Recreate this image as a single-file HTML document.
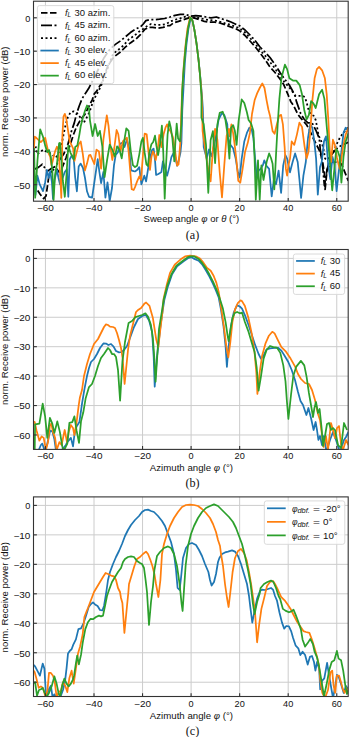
<!DOCTYPE html>
<html><head><meta charset="utf-8"><style>html,body{margin:0;padding:0;background:#fff;width:350px;height:737px;overflow:hidden}svg{display:block}</style></head>
<body><svg width="350" height="737" viewBox="0 0 350 737" font-family='"Liberation Sans", sans-serif' fill="#111"><defs><clipPath id="ca"><rect x="33.5" y="1.2" width="314.70" height="200.00"/></clipPath><clipPath id="cb"><rect x="33.5" y="249.5" width="314.70" height="199.90"/></clipPath><clipPath id="cc"><rect x="33.5" y="496.9" width="314.70" height="199.60"/></clipPath></defs>
<line x1="45.45" y1="1.2" x2="45.45" y2="201.2" stroke="#cccccc" stroke-width="1.0"/>
<line x1="94.00" y1="1.2" x2="94.00" y2="201.2" stroke="#cccccc" stroke-width="1.0"/>
<line x1="142.55" y1="1.2" x2="142.55" y2="201.2" stroke="#cccccc" stroke-width="1.0"/>
<line x1="191.10" y1="1.2" x2="191.10" y2="201.2" stroke="#cccccc" stroke-width="1.0"/>
<line x1="239.65" y1="1.2" x2="239.65" y2="201.2" stroke="#cccccc" stroke-width="1.0"/>
<line x1="288.20" y1="1.2" x2="288.20" y2="201.2" stroke="#cccccc" stroke-width="1.0"/>
<line x1="336.75" y1="1.2" x2="336.75" y2="201.2" stroke="#cccccc" stroke-width="1.0"/>
<line x1="33.5" y1="17.80" x2="348.2" y2="17.80" stroke="#cccccc" stroke-width="1.0"/>
<line x1="33.5" y1="51.18" x2="348.2" y2="51.18" stroke="#cccccc" stroke-width="1.0"/>
<line x1="33.5" y1="84.56" x2="348.2" y2="84.56" stroke="#cccccc" stroke-width="1.0"/>
<line x1="33.5" y1="117.94" x2="348.2" y2="117.94" stroke="#cccccc" stroke-width="1.0"/>
<line x1="33.5" y1="151.32" x2="348.2" y2="151.32" stroke="#cccccc" stroke-width="1.0"/>
<line x1="33.5" y1="184.70" x2="348.2" y2="184.70" stroke="#cccccc" stroke-width="1.0"/>
<text x="45.45" y="210.60" font-size="8.7" text-anchor="middle" textLength="16.88" lengthAdjust="spacingAndGlyphs">−60</text>
<text x="94.00" y="210.60" font-size="8.7" text-anchor="middle" textLength="16.88" lengthAdjust="spacingAndGlyphs">−40</text>
<text x="142.55" y="210.60" font-size="8.7" text-anchor="middle" textLength="16.88" lengthAdjust="spacingAndGlyphs">−20</text>
<text x="191.10" y="210.60" font-size="8.7" text-anchor="middle" textLength="5.09" lengthAdjust="spacingAndGlyphs">0</text>
<text x="239.65" y="210.60" font-size="8.7" text-anchor="middle" textLength="10.18" lengthAdjust="spacingAndGlyphs">20</text>
<text x="288.20" y="210.60" font-size="8.7" text-anchor="middle" textLength="10.18" lengthAdjust="spacingAndGlyphs">40</text>
<text x="336.75" y="210.60" font-size="8.7" text-anchor="middle" textLength="10.18" lengthAdjust="spacingAndGlyphs">60</text>
<text x="30.30" y="21.60" font-size="8.7" text-anchor="end" textLength="5.09" lengthAdjust="spacingAndGlyphs">0</text>
<text x="30.30" y="54.98" font-size="8.7" text-anchor="end" textLength="16.88" lengthAdjust="spacingAndGlyphs">−10</text>
<text x="30.30" y="88.36" font-size="8.7" text-anchor="end" textLength="16.88" lengthAdjust="spacingAndGlyphs">−20</text>
<text x="30.30" y="121.74" font-size="8.7" text-anchor="end" textLength="16.88" lengthAdjust="spacingAndGlyphs">−30</text>
<text x="30.30" y="155.12" font-size="8.7" text-anchor="end" textLength="16.88" lengthAdjust="spacingAndGlyphs">−40</text>
<text x="30.30" y="188.50" font-size="8.7" text-anchor="end" textLength="16.88" lengthAdjust="spacingAndGlyphs">−50</text>
<text x="191.45" y="222.30" font-size="8.6" text-anchor="middle" textLength="95.68" lengthAdjust="spacingAndGlyphs">Sweep angle <tspan font-style="italic">φ</tspan> or <tspan font-style="italic">θ</tspan> (°)</text>
<text x="192.55" y="239.2" font-size="12.2" text-anchor="middle" font-family='"Liberation Serif", serif'>(a)</text>
<text transform="translate(8.3 101.7) rotate(-90)" font-size="8.6" text-anchor="middle" textLength="110.43" lengthAdjust="spacingAndGlyphs">norm. Receive power (dB)</text>
<g clip-path="url(#ca)">
<polyline points="33.0,182.9 36.0,188.0 40.1,194.3 43.7,198.6 46.0,196.0 47.3,187.1 48.7,177.1 50.3,173.0 53.0,170.0 56.0,168.0 59.0,172.0 62.0,168.0 66.0,158.0 70.0,145.0 73.6,134.3 76.4,127.1 80.9,119.0 84.9,114.4 88.9,106.4 90.6,103.0 92.3,99.6 94.3,93.9 96.9,90.9 99.4,86.6 101.1,84.0 104.0,76.0 107.9,65.7 113.6,57.1 120.1,52.3 125.3,47.1 130.4,42.9 135.6,39.4 140.7,34.3 145.0,29.1 149.3,27.4 152.7,27.4 157.9,28.3 163.0,27.4 168.1,25.7 170.0,25.6 173.4,23.0 178.6,21.3 183.7,19.6 188.9,17.9 194.0,17.9 199.1,19.6 204.3,21.3 209.4,22.1 214.6,22.1 219.7,23.0 224.9,24.7 229.1,26.4 234.0,28.0 236.3,29.0 240.0,31.0 245.0,35.5 250.0,41.0 255.0,46.5 260.0,53.0 265.0,59.5 270.0,67.0 275.0,72.5 280.0,79.0 283.6,84.3 287.9,94.3 290.7,101.4 293.6,105.7 297.9,114.3 300.0,117.1 303.6,121.4 306.3,124.3 309.7,130.3 313.1,138.0 316.6,144.9 320.0,151.7 322.6,162.0 324.3,172.3 325.1,189.4 327.1,169.7 329.4,165.4 332.0,162.0 335.0,162.0 338.0,162.0 341.4,163.7 344.9,172.3 348.3,180.9" fill="none" stroke="#000" stroke-width="1.75" stroke-linejoin="round" stroke-dasharray="6.5,2.5"/>
<polyline points="33.0,170.0 38.7,167.1 42.3,164.3 47.3,171.4 52.0,168.0 55.9,166.4 58.0,162.0 61.6,157.0 63.6,154.3 67.9,144.3 71.4,131.4 74.3,122.9 76.4,114.3 79.3,105.7 82.1,98.6 85.7,92.9 88.6,88.6 91.4,83.0 97.0,72.0 103.6,58.6 109.3,50.0 115.0,44.6 120.1,41.1 125.3,36.9 130.4,32.6 135.6,29.1 140.7,26.6 143.3,24.0 145.9,20.6 149.3,19.7 154.4,19.7 159.6,19.2 164.7,18.5 170.0,17.0 175.1,15.3 180.3,14.4 185.4,14.4 190.6,16.1 195.7,15.6 200.9,16.1 206.0,17.0 211.1,17.9 216.3,17.0 221.4,18.7 226.6,20.4 231.0,22.0 236.3,24.5 240.0,26.0 245.0,30.0 250.0,35.0 255.0,40.5 260.0,47.0 265.0,52.0 270.0,57.5 275.0,64.5 280.0,72.5 285.0,79.5 289.3,85.0 292.1,90.0 295.0,95.7 296.4,101.4 300.7,113.6 304.0,119.0 307.9,122.9 312.1,122.9 316.4,131.4 319.3,138.6 320.3,150.0 322.0,160.0 323.0,169.7 324.4,185.7 327.0,170.0 330.6,156.0 335.1,150.3 338.6,146.9 343.1,144.6 348.5,142.3" fill="none" stroke="#000" stroke-width="1.75" stroke-linejoin="round" stroke-dasharray="11,2.5,2,2.5"/>
<polyline points="33.0,152.0 35.9,147.1 37.3,154.3 40.0,152.0 43.3,149.7 47.0,152.0 50.1,153.1 55.9,157.7 59.0,152.0 61.4,145.7 63.6,134.3 65.7,124.3 67.9,117.1 70.7,112.1 73.6,111.4 77.0,113.0 80.0,117.0 83.7,123.0 86.5,118.0 89.4,112.1 91.1,107.6 92.3,103.6 94.0,99.6 96.0,95.5 98.5,91.0 101.0,86.0 104.0,78.0 107.0,70.0 110.0,62.0 113.0,54.0 118.4,49.7 123.6,45.4 128.7,39.4 133.9,36.0 139.0,31.7 144.1,28.3 147.6,25.7 151.0,24.0 156.1,24.9 161.3,24.9 166.4,24.0 170.0,21.5 175.1,19.8 180.3,18.3 185.4,16.7 190.6,17.3 195.7,17.3 200.9,18.4 206.0,19.6 211.1,20.1 216.3,20.8 221.4,22.1 226.6,23.9 231.0,25.0 236.3,27.0 240.0,28.5 245.0,32.5 250.0,38.0 255.0,43.5 260.0,50.0 265.0,55.5 270.0,62.0 275.0,68.5 280.0,76.0 285.0,83.0 289.0,87.0 295.7,96.0 302.1,95.7 305.0,97.1 307.1,104.3 308.6,110.0 310.7,114.3 313.6,115.7 315.7,120.0 317.1,127.1 318.6,135.7 320.9,140.0 323.4,148.3 325.1,158.6 327.0,160.0 329.4,156.9 332.9,153.4 336.3,144.9 339.7,138.0 343.1,132.9 348.3,127.7" fill="none" stroke="#000" stroke-width="1.75" stroke-linejoin="round" stroke-dasharray="2,2.5"/>
<polyline points="33.0,180.0 34.1,186.7 35.5,195.0 37.4,175.6 39.7,184.4 43.0,191.1 45.2,182.2 46.9,170.0 48.6,177.8 50.2,171.1 51.9,182.0 53.0,199.0 54.5,180.0 57.0,170.0 58.5,178.0 60.0,184.4 62.8,177.5 64.8,172.0 66.9,169.2 68.3,196.8 69.7,159.5 71.8,155.3 73.8,159.5 75.2,177.5 76.9,191.3 78.7,166.4 80.7,163.6 83.0,168.0 85.0,178.0 87.0,191.3 89.0,196.8 92.1,197.7 95.1,177.1 97.7,159.1 99.4,172.0 101.1,183.1 103.4,172.0 105.4,197.7 107.5,182.3 109.7,201.0 112.0,188.0 114.0,165.1 115.7,154.9 117.9,152.3 120.0,143.7 122.2,142.9 124.5,147.0 126.9,139.4 129.1,148.0 131.1,170.3 133.7,171.1 135.0,171.4 137.1,170.0 139.3,167.1 141.4,184.3 144.3,175.7 146.1,181.4 147.9,170.0 150.0,158.0 152.1,150.0 153.6,148.6 155.0,160.0 156.1,175.0 157.9,174.3 160.0,172.9 161.4,172.1 162.9,161.4 165.0,168.0 167.1,175.7 169.3,167.1 171.4,157.1 173.6,152.9 175.5,158.0 177.1,165.7 178.8,160.0 180.4,152.9 181.4,142.9 182.3,110.0 183.5,88.0 184.9,62.0 186.4,45.0 188.4,29.0 190.6,18.2 192.6,21.0 194.6,31.0 196.7,44.5 198.7,61.0 200.3,77.0 201.8,93.5 202.8,108.0 203.3,125.0 203.7,147.1 206.7,158.6 209.0,149.4 211.7,156.3 215.1,140.3 218.6,119.7 222.0,112.9 224.3,115.1 227.3,124.3 228.0,138.0 230.6,144.9 233.1,148.3 235.7,158.6 237.9,172.3 239.7,177.4 241.7,158.6 244.3,141.4 246.9,132.9 249.4,127.7 251.7,129.4 253.4,138.0 255.1,158.6 256.8,178.0 258.5,170.6 260.6,168.9 262.8,165.4 264.3,160.3 266.6,166.0 269.1,168.9 271.7,196.3 273.8,180.0 276.0,184.3 278.6,170.6 281.1,192.9 283.2,165.4 285.4,155.1 287.1,158.6 290.0,172.3 292.6,162.0 295.1,153.4 297.7,162.0 299.4,179.1 301.1,198.0 303.4,175.7 305.8,162.0 308.0,138.0 310.2,124.3 312.3,127.7 314.3,141.4 316.1,158.6 317.8,194.6 320.0,167.1 321.7,162.0 324.0,141.4 326.0,136.3 328.1,163.7 330.3,179.1 332.5,156.9 334.5,165.0 336.6,191.1 338.9,170.6 341.4,151.7 343.5,132.9 345.7,127.7 348.5,129.4" fill="none" stroke="#1f77b4" stroke-width="1.75" stroke-linejoin="round"/>
<polyline points="33.0,160.0 34.7,136.7 36.3,137.8 38.5,140.0 40.8,142.2 43.0,140.0 45.2,137.8 46.9,145.6 48.6,153.3 50.2,156.7 51.4,165.0 52.4,162.2 53.8,156.0 55.2,151.1 56.9,146.7 58.5,150.0 60.2,175.6 61.3,197.8 62.4,135.0 63.5,116.6 64.8,113.8 66.2,118.0 67.6,127.7 69.7,141.5 71.8,145.6 73.1,148.4 74.5,160.9 76.6,152.6 78.7,144.3 80.7,141.5 82.8,153.9 84.9,170.5 87.0,163.6 89.0,155.3 90.4,154.9 92.6,160.0 94.3,164.0 96.5,149.7 98.9,151.4 101.1,168.6 103.4,139.4 106.8,115.4 108.5,125.7 110.6,148.0 112.3,160.0 114.3,148.0 116.6,130.0 118.3,134.3 120.5,151.4 122.9,141.1 125.1,139.4 126.9,137.7 128.6,151.4 130.3,172.0 131.7,189.1 133.7,190.0 135.0,187.1 137.1,181.4 139.3,176.4 141.0,180.0 142.9,155.7 144.7,133.6 146.7,134.3 148.6,152.9 150.0,170.0 151.4,157.1 152.9,151.4 154.3,154.3 155.7,160.0 157.6,150.0 159.3,135.0 161.4,147.1 163.6,134.3 165.7,127.1 167.1,124.3 168.6,128.6 170.7,131.4 172.9,137.1 175.0,150.0 177.1,165.7 178.6,164.3 180.4,141.4 181.2,115.0 182.2,90.0 183.6,68.0 185.2,48.0 187.4,29.0 190.1,17.4 192.4,20.4 194.4,29.9 196.5,43.4 198.5,59.7 200.1,76.0 201.5,92.3 202.2,112.0 202.6,131.1 204.9,147.1 207.5,165.0 210.6,181.4 212.9,149.4 215.1,128.9 217.4,140.0 219.7,172.3 222.0,197.4 224.3,165.0 226.6,135.7 228.9,128.9 229.7,136.3 231.4,124.3 233.1,132.9 234.9,146.6 236.6,162.0 238.3,180.9 240.3,182.6 242.6,168.9 245.1,151.7 247.7,143.1 249.9,132.9 252.0,114.0 254.6,100.3 257.1,93.4 259.7,88.0 262.3,83.4 264.5,88.0 266.6,100.3 268.5,110.0 270.0,115.7 272.6,131.1 274.6,133.7 276.9,124.3 279.1,115.7 281.1,114.9 282.9,124.3 284.6,146.6 285.9,168.9 287.1,175.7 288.5,165.0 290.0,158.6 291.7,141.4 294.3,144.9 296.9,134.6 299.4,122.6 302.0,126.9 304.6,146.6 306.6,158.6 308.5,151.7 310.2,132.9 312.3,101.1 314.6,78.3 316.9,69.1 319.1,66.9 322.1,70.3 324.9,78.3 326.7,94.3 328.3,119.4 329.8,150.0 331.1,162.0 332.9,139.7 334.9,144.9 337.0,158.0 339.7,168.9 341.4,158.6 343.1,146.6 345.7,134.6 348.5,127.7" fill="none" stroke="#ff7f0e" stroke-width="1.75" stroke-linejoin="round"/>
<polyline points="33.0,151.0 34.1,148.9 35.2,197.8 37.5,160.0 40.2,129.4 43.0,136.7 45.2,145.6 47.4,152.2 49.0,150.0 50.8,156.7 52.3,170.0 53.6,200.0 55.0,175.0 56.9,164.4 59.1,143.3 60.0,142.9 61.4,160.0 62.8,180.2 64.8,196.8 66.5,175.0 68.3,145.6 70.4,152.6 72.4,156.7 73.8,159.5 75.2,147.0 77.3,145.6 79.4,134.6 80.7,126.3 82.8,118.0 84.9,111.1 87.0,105.5 89.0,108.3 90.0,120.6 92.6,136.0 95.1,124.0 97.7,136.0 99.9,130.9 102.3,146.3 104.6,177.1 107.1,160.0 109.7,144.6 112.3,149.7 114.9,156.6 117.1,146.3 119.5,149.7 121.7,158.3 123.9,142.9 126.3,128.3 128.6,130.9 130.8,151.4 132.9,165.1 135.0,167.1 137.1,165.7 139.3,154.3 141.4,141.4 142.9,137.9 144.7,152.9 146.4,164.3 147.9,166.0 149.3,152.9 151.4,144.3 153.2,142.0 155.0,135.7 156.4,145.7 158.1,155.0 160.0,144.3 161.9,125.7 163.3,152.9 164.7,198.6 166.1,164.3 167.6,134.3 169.3,121.4 170.7,127.1 172.4,138.6 174.3,161.4 175.5,140.0 176.7,123.6 178.1,138.6 180.0,141.4 181.4,124.3 182.2,92.0 183.3,73.3 184.7,57.0 186.3,40.7 188.3,27.1 190.4,17.6 192.4,20.4 194.4,29.9 196.5,43.4 198.5,59.7 200.1,76.0 201.5,97.0 201.4,117.4 203.7,124.3 206.0,144.9 208.3,192.9 210.6,140.3 212.9,131.1 215.1,163.1 217.4,124.3 219.7,112.9 222.7,111.7 225.4,119.7 227.7,135.7 229.4,158.6 231.1,127.7 233.1,125.1 234.9,131.1 236.6,144.9 238.6,120.9 241.7,99.4 244.3,102.9 246.9,112.3 248.6,120.0 251.1,123.4 253.4,131.1 254.6,158.6 255.8,199.7 258.0,160.3 259.7,199.7 261.4,165.4 263.5,180.0 266.6,162.0 269.1,153.4 271.0,158.0 272.6,163.7 274.3,189.4 276.0,155.1 277.7,124.3 279.4,98.6 281.4,78.3 284.9,64.6 287.1,69.1 289.4,78.3 292.9,80.6 296.3,80.6 299.7,85.1 302.0,94.3 304.3,110.3 306.6,119.4 308.9,114.9 311.1,101.1 313.4,103.4 315.7,108.0 319.1,94.3 322.1,89.7 324.4,98.9 326.7,126.3 329.4,156.0 332.2,190.3 334.2,170.6 336.3,149.1 338.0,151.7 339.7,156.9 341.4,182.6 343.5,156.9 345.7,141.4 348.5,132.9" fill="none" stroke="#2ca02c" stroke-width="1.75" stroke-linejoin="round"/>
</g>
<line x1="45.45" y1="201.2" x2="45.45" y2="197.89999999999998" stroke="#333" stroke-width="1.1"/>
<line x1="94.00" y1="201.2" x2="94.00" y2="197.89999999999998" stroke="#333" stroke-width="1.1"/>
<line x1="142.55" y1="201.2" x2="142.55" y2="197.89999999999998" stroke="#333" stroke-width="1.1"/>
<line x1="191.10" y1="201.2" x2="191.10" y2="197.89999999999998" stroke="#333" stroke-width="1.1"/>
<line x1="239.65" y1="201.2" x2="239.65" y2="197.89999999999998" stroke="#333" stroke-width="1.1"/>
<line x1="288.20" y1="201.2" x2="288.20" y2="197.89999999999998" stroke="#333" stroke-width="1.1"/>
<line x1="336.75" y1="201.2" x2="336.75" y2="197.89999999999998" stroke="#333" stroke-width="1.1"/>
<line x1="33.5" y1="17.80" x2="36.9" y2="17.80" stroke="#333" stroke-width="1.1"/>
<line x1="33.5" y1="51.18" x2="36.9" y2="51.18" stroke="#333" stroke-width="1.1"/>
<line x1="33.5" y1="84.56" x2="36.9" y2="84.56" stroke="#333" stroke-width="1.1"/>
<line x1="33.5" y1="117.94" x2="36.9" y2="117.94" stroke="#333" stroke-width="1.1"/>
<line x1="33.5" y1="151.32" x2="36.9" y2="151.32" stroke="#333" stroke-width="1.1"/>
<line x1="33.5" y1="184.70" x2="36.9" y2="184.70" stroke="#333" stroke-width="1.1"/>
<rect x="33.5" y="1.2" width="314.70" height="200.00" fill="none" stroke="#333" stroke-width="1.1"/>
<rect x="37.4" y="5.6" width="76.4" height="78.0" rx="2.2" fill="#fff" fill-opacity="0.8" stroke="#d6d6d6" stroke-width="0.9"/>
<line x1="41.0" y1="12.90" x2="56.7" y2="12.90" stroke="#000" stroke-width="1.75" stroke-dasharray="6.5,2.5"/>
<text x="65.00" y="16.00" font-size="9.30" font-style="italic">f</text>
<text x="67.60" y="17.40" font-size="6.47" font-style="italic">L</text>
<text x="74.60" y="15.70" font-size="8.3" textLength="35.67" lengthAdjust="spacingAndGlyphs">30 azim.</text>
<line x1="41.0" y1="25.45" x2="56.7" y2="25.45" stroke="#000" stroke-width="1.75" stroke-dasharray="11,2.5,2,2.5"/>
<text x="65.00" y="28.55" font-size="9.30" font-style="italic">f</text>
<text x="67.60" y="29.95" font-size="6.47" font-style="italic">L</text>
<text x="74.60" y="28.25" font-size="8.3" textLength="35.67" lengthAdjust="spacingAndGlyphs">45 azim.</text>
<line x1="41.0" y1="38.00" x2="56.7" y2="38.00" stroke="#000" stroke-width="1.75" stroke-dasharray="2,2.5"/>
<text x="65.00" y="41.10" font-size="9.30" font-style="italic">f</text>
<text x="67.60" y="42.50" font-size="6.47" font-style="italic">L</text>
<text x="74.60" y="40.80" font-size="8.3" textLength="35.67" lengthAdjust="spacingAndGlyphs">60 azim.</text>
<line x1="40.4" y1="50.55" x2="58.8" y2="50.55" stroke="#1f77b4" stroke-width="1.75"/>
<text x="65.00" y="53.65" font-size="9.30" font-style="italic">f</text>
<text x="67.60" y="55.05" font-size="6.47" font-style="italic">L</text>
<text x="74.60" y="53.35" font-size="8.3" textLength="32.62" lengthAdjust="spacingAndGlyphs">30 elev.</text>
<line x1="40.4" y1="63.10" x2="58.8" y2="63.10" stroke="#ff7f0e" stroke-width="1.75"/>
<text x="65.00" y="66.20" font-size="9.30" font-style="italic">f</text>
<text x="67.60" y="67.60" font-size="6.47" font-style="italic">L</text>
<text x="74.60" y="65.90" font-size="8.3" textLength="32.62" lengthAdjust="spacingAndGlyphs">45 elev.</text>
<line x1="40.4" y1="75.65" x2="58.8" y2="75.65" stroke="#2ca02c" stroke-width="1.75"/>
<text x="65.00" y="78.75" font-size="9.30" font-style="italic">f</text>
<text x="67.60" y="80.15" font-size="6.47" font-style="italic">L</text>
<text x="74.60" y="78.45" font-size="8.3" textLength="32.62" lengthAdjust="spacingAndGlyphs">60 elev.</text>
<line x1="45.45" y1="249.5" x2="45.45" y2="449.4" stroke="#cccccc" stroke-width="1.0"/>
<line x1="94.00" y1="249.5" x2="94.00" y2="449.4" stroke="#cccccc" stroke-width="1.0"/>
<line x1="142.55" y1="249.5" x2="142.55" y2="449.4" stroke="#cccccc" stroke-width="1.0"/>
<line x1="191.10" y1="249.5" x2="191.10" y2="449.4" stroke="#cccccc" stroke-width="1.0"/>
<line x1="239.65" y1="249.5" x2="239.65" y2="449.4" stroke="#cccccc" stroke-width="1.0"/>
<line x1="288.20" y1="249.5" x2="288.20" y2="449.4" stroke="#cccccc" stroke-width="1.0"/>
<line x1="336.75" y1="249.5" x2="336.75" y2="449.4" stroke="#cccccc" stroke-width="1.0"/>
<line x1="33.5" y1="258.40" x2="348.2" y2="258.40" stroke="#cccccc" stroke-width="1.0"/>
<line x1="33.5" y1="287.83" x2="348.2" y2="287.83" stroke="#cccccc" stroke-width="1.0"/>
<line x1="33.5" y1="317.26" x2="348.2" y2="317.26" stroke="#cccccc" stroke-width="1.0"/>
<line x1="33.5" y1="346.69" x2="348.2" y2="346.69" stroke="#cccccc" stroke-width="1.0"/>
<line x1="33.5" y1="376.12" x2="348.2" y2="376.12" stroke="#cccccc" stroke-width="1.0"/>
<line x1="33.5" y1="405.55" x2="348.2" y2="405.55" stroke="#cccccc" stroke-width="1.0"/>
<line x1="33.5" y1="434.98" x2="348.2" y2="434.98" stroke="#cccccc" stroke-width="1.0"/>
<text x="45.45" y="459.40" font-size="8.7" text-anchor="middle" textLength="16.88" lengthAdjust="spacingAndGlyphs">−60</text>
<text x="94.00" y="459.40" font-size="8.7" text-anchor="middle" textLength="16.88" lengthAdjust="spacingAndGlyphs">−40</text>
<text x="142.55" y="459.40" font-size="8.7" text-anchor="middle" textLength="16.88" lengthAdjust="spacingAndGlyphs">−20</text>
<text x="191.10" y="459.40" font-size="8.7" text-anchor="middle" textLength="5.09" lengthAdjust="spacingAndGlyphs">0</text>
<text x="239.65" y="459.40" font-size="8.7" text-anchor="middle" textLength="10.18" lengthAdjust="spacingAndGlyphs">20</text>
<text x="288.20" y="459.40" font-size="8.7" text-anchor="middle" textLength="10.18" lengthAdjust="spacingAndGlyphs">40</text>
<text x="336.75" y="459.40" font-size="8.7" text-anchor="middle" textLength="10.18" lengthAdjust="spacingAndGlyphs">60</text>
<text x="30.30" y="262.20" font-size="8.7" text-anchor="end" textLength="5.09" lengthAdjust="spacingAndGlyphs">0</text>
<text x="30.30" y="291.63" font-size="8.7" text-anchor="end" textLength="16.88" lengthAdjust="spacingAndGlyphs">−10</text>
<text x="30.30" y="321.06" font-size="8.7" text-anchor="end" textLength="16.88" lengthAdjust="spacingAndGlyphs">−20</text>
<text x="30.30" y="350.49" font-size="8.7" text-anchor="end" textLength="16.88" lengthAdjust="spacingAndGlyphs">−30</text>
<text x="30.30" y="379.92" font-size="8.7" text-anchor="end" textLength="16.88" lengthAdjust="spacingAndGlyphs">−40</text>
<text x="30.30" y="409.35" font-size="8.7" text-anchor="end" textLength="16.88" lengthAdjust="spacingAndGlyphs">−50</text>
<text x="30.30" y="438.78" font-size="8.7" text-anchor="end" textLength="16.88" lengthAdjust="spacingAndGlyphs">−60</text>
<text x="191.45" y="471.30" font-size="8.6" text-anchor="middle" textLength="83.21" lengthAdjust="spacingAndGlyphs">Azimuth angle <tspan font-style="italic">φ</tspan> (°)</text>
<text x="192.55" y="486.8" font-size="12.2" text-anchor="middle" font-family='"Liberation Serif", serif'>(b)</text>
<text transform="translate(8.3 349.9) rotate(-90)" font-size="8.6" text-anchor="middle" textLength="110.43" lengthAdjust="spacingAndGlyphs">norm. Receive power (dB)</text>
<g clip-path="url(#cb)">
<polyline points="38.7,450.0 40.9,445.0 42.3,443.6 44.4,450.0 47.0,445.0 50.1,430.7 52.3,431.4 54.4,439.3 55.9,450.0 60.0,452.0 65.9,445.0 67.3,442.1 70.9,437.9 73.0,446.4 74.4,435.0 76.6,426.4 79.4,422.1 82.1,403.1 84.4,389.4 87.0,376.0 89.0,368.0 91.0,362.0 94.0,359.0 97.0,354.0 100.0,348.0 103.4,343.4 106.0,343.6 108.4,345.0 111.0,344.0 113.6,346.6 116.0,351.0 119.0,352.4 121.6,352.0 124.0,350.0 127.0,346.0 130.0,338.0 134.0,327.0 138.0,319.0 142.3,316.0 145.7,314.9 149.1,320.6 152.1,332.0 153.7,357.1 154.7,386.6 156.7,359.4 158.3,345.7 160.6,325.1 162.4,312.6 164.3,300.0 167.9,286.4 172.1,274.3 177.1,266.4 183.6,261.4 188.6,257.9 191.4,257.1 194.3,258.9 198.6,260.7 202.1,264.3 205.7,270.0 209.3,276.4 212.9,283.6 215.7,290.0 218.6,297.1 220.8,308.6 223.5,326.2 225.6,346.6 226.9,366.9 228.3,349.3 231.0,326.2 233.7,312.6 237.1,305.2 239.8,306.5 242.0,308.6 244.9,315.1 248.3,324.3 251.7,334.6 255.1,344.9 258.6,354.0 260.9,358.6 263.1,356.3 266.6,349.4 270.0,348.3 274.6,347.8 278.0,347.8 281.4,350.6 284.9,356.3 288.3,362.0 291.7,370.0 295.0,380.0 298.0,392.0 300.5,401.0 303.0,405.0 306.4,415.0 308.4,408.0 311.0,418.0 313.6,430.0 315.6,422.0 317.0,430.0 318.4,440.0 320.0,436.0 322.0,445.0 324.0,436.0 326.4,452.0 330.0,440.0 333.0,432.0 336.0,440.0 340.0,452.0 344.0,440.0 346.0,437.0 348.5,432.0" fill="none" stroke="#1f77b4" stroke-width="1.75" stroke-linejoin="round"/>
<polyline points="33.0,421.4 34.7,422.1 36.6,430.7 39.4,440.7 41.6,436.4 43.7,437.9 45.9,450.0 48.0,442.1 49.9,425.7 51.3,423.6 53.0,432.1 55.1,437.9 56.6,450.0 59.4,442.1 61.6,445.0 64.7,430.0 67.0,442.1 68.7,432.1 70.9,425.0 73.0,427.9 74.4,435.0 76.6,422.1 78.7,405.4 79.9,397.4 82.0,390.0 84.0,376.0 87.0,364.0 90.0,354.0 94.0,344.0 98.0,339.0 101.0,333.0 104.0,327.0 106.0,324.4 108.0,325.0 110.0,326.6 113.0,327.0 115.0,328.0 117.0,333.0 119.0,340.0 121.0,348.0 122.6,358.0 124.6,384.0 126.2,368.0 128.0,350.0 130.0,336.0 133.0,324.0 136.0,312.0 137.7,310.3 141.1,308.0 144.6,303.4 146.1,302.5 149.5,305.9 152.9,318.1 156.3,339.8 158.3,347.2 160.4,328.9 162.4,312.6 163.6,298.6 166.9,284.3 170.0,272.9 175.0,264.3 180.7,259.3 185.0,256.4 190.0,255.7 195.7,256.4 200.0,258.6 203.6,262.9 207.1,267.9 210.7,270.7 213.6,275.7 216.4,282.9 218.6,291.4 221.5,309.9 224.2,328.9 226.2,345.2 228.3,357.4 230.3,342.5 232.4,322.1 235.1,309.2 237.8,303.1 240.5,300.4 242.0,301.1 244.9,306.0 248.3,317.4 251.7,333.4 254.5,351.7 256.3,372.3 257.4,394.0 259.7,372.3 262.0,356.3 265.4,343.7 268.9,335.7 272.3,331.8 274.6,333.4 278.0,340.3 281.4,347.1 286.0,351.7 290.6,358.6 295.1,366.6 298.0,374.0 301.0,379.0 305.0,383.0 309.0,384.0 312.0,390.0 315.0,400.0 318.0,414.0 320.0,420.0 321.6,432.0 323.6,447.0 326.0,436.0 328.0,450.0 331.0,423.0 333.0,430.0 335.0,438.0 337.0,428.0 339.0,426.0 341.0,444.0 343.0,450.0 346.0,440.0 348.5,445.0" fill="none" stroke="#ff7f0e" stroke-width="1.75" stroke-linejoin="round"/>
<polyline points="34.7,450.0 35.1,424.3 39.4,423.6 42.7,403.6 45.1,416.4 47.3,437.9 49.9,417.9 52.3,423.6 54.4,432.9 57.3,421.4 59.9,432.1 62.3,446.4 63.7,451.0 67.3,443.6 69.4,422.9 72.3,422.1 74.4,416.4 76.6,430.7 79.0,442.9 81.0,421.4 83.3,412.3 85.6,398.6 89.0,387.1 92.0,384.0 95.0,376.0 98.0,366.0 101.0,358.0 104.0,354.0 108.0,348.0 110.0,350.0 112.0,354.0 114.0,354.0 116.0,357.0 118.0,370.0 120.1,400.6 122.4,361.7 125.0,342.0 128.6,322.9 132.0,321.0 135.4,317.1 138.9,316.0 142.0,315.0 145.4,313.3 148.1,316.7 150.9,324.9 152.9,338.4 154.2,356.1 155.6,381.8 157.0,360.1 159.0,328.9 161.7,312.6 163.6,300.0 167.1,286.4 171.4,274.3 176.4,265.7 182.9,260.7 187.9,257.1 190.7,256.4 194.3,256.4 198.6,258.9 202.1,262.9 205.7,267.9 209.3,274.3 212.9,281.4 216.4,289.3 219.3,297.1 222.9,308.6 225.6,322.1 227.6,335.7 228.6,341.1 230.3,330.3 232.4,318.1 234.4,313.3 237.1,312.0 239.8,313.3 242.0,312.6 244.9,322.0 248.3,331.1 251.7,342.6 254.5,351.7 256.7,367.7 258.6,390.6 260.9,376.9 263.6,358.6 266.6,349.9 270.0,346.0 273.4,347.1 276.9,347.6 280.3,352.9 283.3,365.4 285.5,381.4 286.8,400.0 288.4,419.0 291.0,395.0 293.3,376.0 296.3,366.6 300.9,360.9 304.3,365.4 306.6,376.9 308.9,392.9 311.0,405.0 313.0,417.0 314.4,408.0 316.0,402.0 318.0,413.0 319.6,409.0 321.6,428.0 323.0,446.0 325.0,436.0 327.0,424.0 329.0,423.0 331.0,430.0 333.0,428.0 335.0,430.0 338.0,445.0 341.0,448.0 344.0,423.0 347.0,430.0" fill="none" stroke="#2ca02c" stroke-width="1.75" stroke-linejoin="round"/>
</g>
<line x1="45.45" y1="449.4" x2="45.45" y2="446.09999999999997" stroke="#333" stroke-width="1.1"/>
<line x1="94.00" y1="449.4" x2="94.00" y2="446.09999999999997" stroke="#333" stroke-width="1.1"/>
<line x1="142.55" y1="449.4" x2="142.55" y2="446.09999999999997" stroke="#333" stroke-width="1.1"/>
<line x1="191.10" y1="449.4" x2="191.10" y2="446.09999999999997" stroke="#333" stroke-width="1.1"/>
<line x1="239.65" y1="449.4" x2="239.65" y2="446.09999999999997" stroke="#333" stroke-width="1.1"/>
<line x1="288.20" y1="449.4" x2="288.20" y2="446.09999999999997" stroke="#333" stroke-width="1.1"/>
<line x1="336.75" y1="449.4" x2="336.75" y2="446.09999999999997" stroke="#333" stroke-width="1.1"/>
<line x1="33.5" y1="258.40" x2="36.9" y2="258.40" stroke="#333" stroke-width="1.1"/>
<line x1="33.5" y1="287.83" x2="36.9" y2="287.83" stroke="#333" stroke-width="1.1"/>
<line x1="33.5" y1="317.26" x2="36.9" y2="317.26" stroke="#333" stroke-width="1.1"/>
<line x1="33.5" y1="346.69" x2="36.9" y2="346.69" stroke="#333" stroke-width="1.1"/>
<line x1="33.5" y1="376.12" x2="36.9" y2="376.12" stroke="#333" stroke-width="1.1"/>
<line x1="33.5" y1="405.55" x2="36.9" y2="405.55" stroke="#333" stroke-width="1.1"/>
<line x1="33.5" y1="434.98" x2="36.9" y2="434.98" stroke="#333" stroke-width="1.1"/>
<rect x="33.5" y="249.5" width="314.70" height="199.90" fill="none" stroke="#333" stroke-width="1.1"/>
<rect x="293.4" y="254.0" width="51.2" height="40.4" rx="2.2" fill="#fff" fill-opacity="0.8" stroke="#d6d6d6" stroke-width="0.9"/>
<line x1="296.1" y1="260.95" x2="314.8" y2="260.95" stroke="#1f77b4" stroke-width="1.75"/>
<text x="320.70" y="263.90" font-size="9.30" font-style="italic">f</text>
<text x="323.30" y="265.30" font-size="6.47" font-style="italic">L</text>
<text x="329.80" y="263.60" font-size="8.3" textLength="10.56" lengthAdjust="spacingAndGlyphs">30</text>
<line x1="296.1" y1="273.60" x2="314.8" y2="273.60" stroke="#ff7f0e" stroke-width="1.75"/>
<text x="320.70" y="276.55" font-size="9.30" font-style="italic">f</text>
<text x="323.30" y="277.95" font-size="6.47" font-style="italic">L</text>
<text x="329.80" y="276.25" font-size="8.3" textLength="10.56" lengthAdjust="spacingAndGlyphs">45</text>
<line x1="296.1" y1="286.25" x2="314.8" y2="286.25" stroke="#2ca02c" stroke-width="1.75"/>
<text x="320.70" y="289.20" font-size="9.30" font-style="italic">f</text>
<text x="323.30" y="290.60" font-size="6.47" font-style="italic">L</text>
<text x="329.80" y="288.90" font-size="8.3" textLength="10.56" lengthAdjust="spacingAndGlyphs">60</text>
<line x1="45.45" y1="496.9" x2="45.45" y2="696.5" stroke="#cccccc" stroke-width="1.0"/>
<line x1="94.00" y1="496.9" x2="94.00" y2="696.5" stroke="#cccccc" stroke-width="1.0"/>
<line x1="142.55" y1="496.9" x2="142.55" y2="696.5" stroke="#cccccc" stroke-width="1.0"/>
<line x1="191.10" y1="496.9" x2="191.10" y2="696.5" stroke="#cccccc" stroke-width="1.0"/>
<line x1="239.65" y1="496.9" x2="239.65" y2="696.5" stroke="#cccccc" stroke-width="1.0"/>
<line x1="288.20" y1="496.9" x2="288.20" y2="696.5" stroke="#cccccc" stroke-width="1.0"/>
<line x1="336.75" y1="496.9" x2="336.75" y2="696.5" stroke="#cccccc" stroke-width="1.0"/>
<line x1="33.5" y1="505.40" x2="348.2" y2="505.40" stroke="#cccccc" stroke-width="1.0"/>
<line x1="33.5" y1="534.87" x2="348.2" y2="534.87" stroke="#cccccc" stroke-width="1.0"/>
<line x1="33.5" y1="564.34" x2="348.2" y2="564.34" stroke="#cccccc" stroke-width="1.0"/>
<line x1="33.5" y1="593.81" x2="348.2" y2="593.81" stroke="#cccccc" stroke-width="1.0"/>
<line x1="33.5" y1="623.28" x2="348.2" y2="623.28" stroke="#cccccc" stroke-width="1.0"/>
<line x1="33.5" y1="652.75" x2="348.2" y2="652.75" stroke="#cccccc" stroke-width="1.0"/>
<line x1="33.5" y1="682.22" x2="348.2" y2="682.22" stroke="#cccccc" stroke-width="1.0"/>
<text x="45.45" y="706.60" font-size="8.7" text-anchor="middle" textLength="16.88" lengthAdjust="spacingAndGlyphs">−60</text>
<text x="94.00" y="706.60" font-size="8.7" text-anchor="middle" textLength="16.88" lengthAdjust="spacingAndGlyphs">−40</text>
<text x="142.55" y="706.60" font-size="8.7" text-anchor="middle" textLength="16.88" lengthAdjust="spacingAndGlyphs">−20</text>
<text x="191.10" y="706.60" font-size="8.7" text-anchor="middle" textLength="5.09" lengthAdjust="spacingAndGlyphs">0</text>
<text x="239.65" y="706.60" font-size="8.7" text-anchor="middle" textLength="10.18" lengthAdjust="spacingAndGlyphs">20</text>
<text x="288.20" y="706.60" font-size="8.7" text-anchor="middle" textLength="10.18" lengthAdjust="spacingAndGlyphs">40</text>
<text x="336.75" y="706.60" font-size="8.7" text-anchor="middle" textLength="10.18" lengthAdjust="spacingAndGlyphs">60</text>
<text x="30.30" y="509.20" font-size="8.7" text-anchor="end" textLength="5.09" lengthAdjust="spacingAndGlyphs">0</text>
<text x="30.30" y="538.67" font-size="8.7" text-anchor="end" textLength="16.88" lengthAdjust="spacingAndGlyphs">−10</text>
<text x="30.30" y="568.14" font-size="8.7" text-anchor="end" textLength="16.88" lengthAdjust="spacingAndGlyphs">−20</text>
<text x="30.30" y="597.61" font-size="8.7" text-anchor="end" textLength="16.88" lengthAdjust="spacingAndGlyphs">−30</text>
<text x="30.30" y="627.08" font-size="8.7" text-anchor="end" textLength="16.88" lengthAdjust="spacingAndGlyphs">−40</text>
<text x="30.30" y="656.55" font-size="8.7" text-anchor="end" textLength="16.88" lengthAdjust="spacingAndGlyphs">−50</text>
<text x="30.30" y="686.02" font-size="8.7" text-anchor="end" textLength="16.88" lengthAdjust="spacingAndGlyphs">−60</text>
<text x="191.45" y="718.70" font-size="8.6" text-anchor="middle" textLength="83.21" lengthAdjust="spacingAndGlyphs">Azimuth angle <tspan font-style="italic">φ</tspan> (°)</text>
<text x="192.55" y="734.6" font-size="12.2" text-anchor="middle" font-family='"Liberation Serif", serif'>(c)</text>
<text transform="translate(8.3 597.2) rotate(-90)" font-size="8.6" text-anchor="middle" textLength="110.43" lengthAdjust="spacingAndGlyphs">norm. Receive power (dB)</text>
<g clip-path="url(#cc)">
<polyline points="33.0,664.3 35.1,666.4 37.3,670.7 39.9,675.7 42.7,663.6 44.4,668.6 46.1,697.0 48.5,690.0 50.9,685.7 52.5,697.0 54.4,694.3 57.0,698.0 60.0,698.0 63.0,690.0 65.1,680.7 66.6,667.9 68.0,653.6 69.9,650.7 71.6,649.3 73.3,644.6 75.9,639.4 78.4,629.1 81.0,628.3 83.6,623.1 86.1,615.4 88.7,606.9 91.0,604.0 93.0,602.4 95.0,604.4 97.6,606.0 100.0,610.0 102.4,610.4 104.0,606.0 106.0,594.0 108.0,580.0 110.0,572.0 113.0,564.0 116.0,557.0 119.0,551.0 122.0,544.0 125.0,536.0 128.0,530.0 131.0,525.0 135.0,520.0 139.0,516.0 142.0,512.0 145.0,510.0 148.0,509.6 151.0,511.0 154.0,512.0 158.0,516.0 162.0,521.0 165.0,526.0 168.0,534.0 171.0,542.0 174.0,554.0 176.0,570.0 177.6,588.0 179.6,590.0 181.0,578.0 183.0,558.0 186.0,548.0 189.0,544.0 192.0,543.0 196.0,545.0 199.0,550.0 202.0,556.0 205.0,564.0 208.4,572.0 210.0,580.0 211.6,585.6 214.0,582.0 216.0,574.0 218.0,562.0 219.4,558.0 222.0,554.0 225.0,552.4 228.0,551.6 232.0,550.4 235.0,551.6 238.0,556.0 241.0,564.0 244.0,574.0 247.0,584.0 249.0,596.0 250.3,607.0 252.3,622.6 254.6,610.6 257.1,598.6 260.0,591.0 262.0,589.6 265.0,590.0 268.0,589.0 271.0,588.0 273.0,589.6 275.0,596.0 276.9,600.3 279.4,612.3 282.0,622.6 284.2,628.6 286.3,626.0 288.9,626.3 291.1,631.1 293.1,638.0 295.7,645.7 298.3,648.3 300.3,655.1 302.6,651.7 305.1,655.1 307.7,664.6 309.9,656.9 312.0,656.0 314.0,662.0 315.4,670.6 317.1,662.0 319.2,668.9 320.2,689.4 322.0,680.9 324.3,678.3 327.1,662.9 329.1,675.7 330.9,686.0 333.0,698.0 335.0,688.0 336.9,674.9 338.6,676.6 341.1,684.3 343.7,692.9 346.0,686.0 348.5,690.0" fill="none" stroke="#1f77b4" stroke-width="1.75" stroke-linejoin="round"/>
<polyline points="33.0,670.0 34.7,672.1 36.6,679.3 38.7,687.9 40.9,686.4 43.0,687.9 45.5,697.0 47.5,690.0 49.0,672.9 50.9,672.9 53.0,675.7 54.7,681.4 56.6,697.0 58.7,692.0 60.9,690.7 63.0,682.1 65.3,686.0 67.3,692.1 69.4,677.9 71.6,670.7 73.7,683.6 75.9,668.6 78.0,653.6 80.1,646.4 82.7,634.3 84.4,617.1 87.0,610.3 88.0,608.0 91.0,600.0 94.0,592.0 97.0,587.0 100.0,582.0 103.0,577.0 105.6,573.0 108.0,574.0 111.0,575.6 114.0,576.4 116.0,580.0 118.0,588.0 120.0,592.0 121.0,598.0 122.4,603.0 124.4,633.0 127.0,606.0 128.4,592.0 129.0,584.0 132.0,574.0 134.4,566.0 137.0,559.0 140.0,557.0 143.0,554.0 146.0,551.6 148.0,554.0 150.4,560.0 152.4,566.0 154.4,574.0 156.0,584.0 158.4,597.0 160.4,580.0 162.0,554.0 164.0,544.0 167.0,534.0 170.0,526.0 174.0,518.0 178.0,512.0 182.0,507.0 186.0,505.0 190.0,504.6 194.0,505.0 198.0,506.0 202.0,509.0 206.0,513.0 210.0,518.0 213.0,524.0 216.0,532.0 218.0,540.0 220.0,546.0 221.0,554.0 223.0,566.0 225.0,584.0 227.0,598.0 228.6,607.0 230.6,590.0 232.6,572.0 235.0,558.0 238.0,551.0 241.0,549.0 244.0,553.0 246.6,560.0 249.0,572.0 251.4,586.0 253.4,600.0 255.0,612.0 257.1,642.3 259.2,624.3 261.4,608.9 264.0,598.6 267.0,586.0 270.0,582.0 273.0,581.0 275.0,584.0 278.0,590.0 281.1,596.9 284.6,600.3 288.0,605.0 290.6,608.9 293.1,614.0 296.6,620.9 300.0,626.0 303.4,631.1 306.0,632.0 309.4,632.9 312.0,639.7 314.6,648.3 317.1,656.9 318.9,665.4 320.6,682.6 322.3,692.9 325.0,698.0 328.0,690.0 330.5,672.3 332.2,670.6 333.5,685.0 335.1,692.9 336.9,675.7 339.1,675.7 341.1,682.6 342.9,689.4 344.6,692.9 346.5,688.0 348.5,694.0" fill="none" stroke="#ff7f0e" stroke-width="1.75" stroke-linejoin="round"/>
<polyline points="33.0,683.6 35.1,682.1 37.0,695.7 39.0,690.0 40.9,689.3 42.7,688.0 44.4,692.1 46.6,697.0 49.0,693.0 51.6,686.4 54.4,676.4 56.6,683.6 58.7,693.6 60.1,697.0 62.3,685.0 64.4,678.6 66.6,683.6 68.7,686.4 70.9,683.6 73.0,679.3 74.1,675.4 75.9,663.4 77.2,655.7 78.9,664.3 81.0,654.9 82.7,642.9 85.3,629.1 87.9,622.3 90.4,618.9 93.0,619.2 96.0,617.0 99.0,615.6 101.0,616.4 103.0,615.6 105.0,606.0 107.0,596.0 109.0,590.0 112.0,582.0 115.0,577.0 118.0,572.0 121.0,568.0 123.0,562.0 125.0,559.0 128.0,557.0 131.0,556.4 134.0,557.0 137.0,561.0 140.0,563.0 142.0,564.0 144.0,568.0 145.6,580.0 147.0,592.0 149.0,625.0 151.0,602.0 153.0,586.0 154.4,570.0 157.0,556.0 160.0,552.0 164.0,548.0 168.0,546.4 171.0,548.0 174.0,554.0 177.0,566.0 179.6,584.0 181.6,604.0 182.6,611.0 184.0,590.0 185.6,566.0 188.0,546.0 191.0,534.0 194.0,526.0 198.0,518.0 202.0,512.0 206.0,508.0 210.0,506.0 214.0,504.4 218.0,506.0 221.0,509.0 225.0,513.0 229.0,517.0 233.0,522.0 236.0,528.0 239.0,536.0 242.0,544.0 245.0,556.0 248.0,570.0 250.6,584.0 252.9,603.7 254.6,614.0 257.1,602.0 259.7,593.4 260.6,588.0 264.0,584.0 267.4,582.0 271.0,580.6 273.4,582.0 276.0,588.0 278.6,596.0 280.3,599.4 282.9,608.9 285.4,610.6 288.9,612.3 291.4,611.4 293.5,609.7 295.7,614.9 298.3,621.7 300.9,629.4 302.6,639.7 305.1,646.6 307.7,643.1 310.3,638.9 312.9,644.0 314.6,651.7 317.1,657.7 318.9,665.4 320.6,675.7 322.3,686.0 324.0,696.3 326.6,684.3 329.1,670.6 331.7,662.0 334.3,660.3 336.9,650.9 338.6,658.6 341.1,660.3 343.2,670.6 345.4,686.0 347.0,694.0 348.5,690.0" fill="none" stroke="#2ca02c" stroke-width="1.75" stroke-linejoin="round"/>
</g>
<line x1="45.45" y1="696.5" x2="45.45" y2="693.2" stroke="#333" stroke-width="1.1"/>
<line x1="94.00" y1="696.5" x2="94.00" y2="693.2" stroke="#333" stroke-width="1.1"/>
<line x1="142.55" y1="696.5" x2="142.55" y2="693.2" stroke="#333" stroke-width="1.1"/>
<line x1="191.10" y1="696.5" x2="191.10" y2="693.2" stroke="#333" stroke-width="1.1"/>
<line x1="239.65" y1="696.5" x2="239.65" y2="693.2" stroke="#333" stroke-width="1.1"/>
<line x1="288.20" y1="696.5" x2="288.20" y2="693.2" stroke="#333" stroke-width="1.1"/>
<line x1="336.75" y1="696.5" x2="336.75" y2="693.2" stroke="#333" stroke-width="1.1"/>
<line x1="33.5" y1="505.40" x2="36.9" y2="505.40" stroke="#333" stroke-width="1.1"/>
<line x1="33.5" y1="534.87" x2="36.9" y2="534.87" stroke="#333" stroke-width="1.1"/>
<line x1="33.5" y1="564.34" x2="36.9" y2="564.34" stroke="#333" stroke-width="1.1"/>
<line x1="33.5" y1="593.81" x2="36.9" y2="593.81" stroke="#333" stroke-width="1.1"/>
<line x1="33.5" y1="623.28" x2="36.9" y2="623.28" stroke="#333" stroke-width="1.1"/>
<line x1="33.5" y1="652.75" x2="36.9" y2="652.75" stroke="#333" stroke-width="1.1"/>
<line x1="33.5" y1="682.22" x2="36.9" y2="682.22" stroke="#333" stroke-width="1.1"/>
<rect x="33.5" y="496.9" width="314.70" height="199.60" fill="none" stroke="#333" stroke-width="1.1"/>
<rect x="264.3" y="500.9" width="80.5" height="43.4" rx="2.2" fill="#fff" fill-opacity="0.8" stroke="#d6d6d6" stroke-width="0.9"/>
<line x1="267.0" y1="508.30" x2="285.7" y2="508.30" stroke="#1f77b4" stroke-width="1.75"/>
<text x="291.9" y="511.70" font-size="8.6" font-style="italic">φ</text>
<text x="297.40" y="513.10" font-size="6.6" textLength="12.40" lengthAdjust="spacingAndGlyphs" font-style="italic">dbf.</text>
<text x="313.00" y="511.70" font-size="8.3" textLength="6.95" lengthAdjust="spacingAndGlyphs">=</text>
<text x="323.00" y="511.70" font-size="8.3" textLength="17.71" lengthAdjust="spacingAndGlyphs">-20°</text>
<line x1="267.0" y1="521.85" x2="285.7" y2="521.85" stroke="#ff7f0e" stroke-width="1.75"/>
<text x="291.9" y="525.25" font-size="8.6" font-style="italic">φ</text>
<text x="297.40" y="526.65" font-size="6.6" textLength="12.40" lengthAdjust="spacingAndGlyphs" font-style="italic">dbf.</text>
<text x="313.00" y="525.25" font-size="8.3" textLength="6.95" lengthAdjust="spacingAndGlyphs">=</text>
<text x="323.00" y="525.25" font-size="8.3" textLength="9.43" lengthAdjust="spacingAndGlyphs">0°</text>
<line x1="267.0" y1="535.40" x2="285.7" y2="535.40" stroke="#2ca02c" stroke-width="1.75"/>
<text x="291.9" y="538.80" font-size="8.6" font-style="italic">φ</text>
<text x="297.40" y="540.20" font-size="6.6" textLength="12.40" lengthAdjust="spacingAndGlyphs" font-style="italic">dbf.</text>
<text x="313.00" y="538.80" font-size="8.3" textLength="6.95" lengthAdjust="spacingAndGlyphs">=</text>
<text x="323.00" y="538.80" font-size="8.3" textLength="14.71" lengthAdjust="spacingAndGlyphs">10°</text></svg></body></html>
